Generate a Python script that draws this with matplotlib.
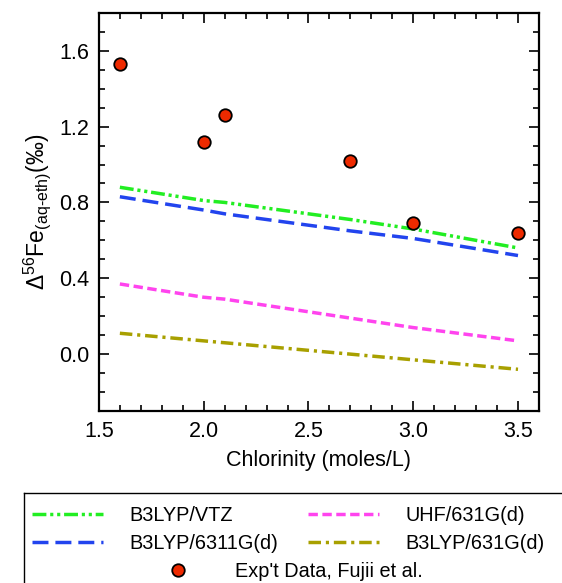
import matplotlib
matplotlib.use("Agg")
import matplotlib.pyplot as plt
from matplotlib.ticker import MultipleLocator

plt.rcParams["font.family"] = ["Liberation Sans", "DejaVu Sans"]
plt.rcParams["mathtext.fontset"] = "custom"
plt.rcParams["mathtext.rm"] = "Liberation Sans"
plt.rcParams["mathtext.it"] = "Liberation Sans"

# ── 데이터 ──────────────────────────────────────────────
chlorinity = [1.6, 2.0, 2.1, 2.7, 3.0, 3.5]
b3lyp_vtz = [0.88, 0.81, 0.80, 0.71, 0.66, 0.56]
b3lyp_6311 = [0.83, 0.76, 0.74, 0.65, 0.61, 0.52]
uhf_631 = [0.37, 0.30, 0.29, 0.19, 0.14, 0.07]
b3lyp_631 = [0.11, 0.07, 0.06, 0.00, -0.03, -0.08]
exp_fujii = [1.53, 1.12, 1.26, 1.02, 0.69, 0.64]

fig = plt.figure(figsize=(5.62, 5.83), dpi=100)
ax = fig.add_axes([0.176, 0.295, 0.783, 0.683])

lw = 2.5
l1, = ax.plot(chlorinity, b3lyp_vtz, color="#22ee22", lw=lw,
              dashes=(4.0, 1.1, 0.9, 1.1, 0.9, 1.1), label="B3LYP/VTZ")
l2, = ax.plot(chlorinity, b3lyp_6311, color="#2244ee", lw=lw,
              dashes=(4.6, 2.0), label="B3LYP/6311G(d)")
l3, = ax.plot(chlorinity, uhf_631, color="#ff44ee", lw=lw,
              dashes=(2.7, 1.3), label="UHF/631G(d)")
l4, = ax.plot(chlorinity, b3lyp_631, color="#a8a000", lw=lw,
              dashes=(3.6, 1.4, 0.9, 1.4), label="B3LYP/631G(d)")
pts, = ax.plot(chlorinity, exp_fujii, "o", ms=9, mfc="#ee2a00",
               mec="black", mew=1.3, ls="none", label="Exp't Data, Fujii et al.")

ax.set_xlim(1.5, 3.6)
ax.set_ylim(-0.3, 1.8)
ax.xaxis.set_minor_locator(MultipleLocator(0.1))
ax.yaxis.set_major_locator(MultipleLocator(0.4))
ax.yaxis.set_minor_locator(MultipleLocator(0.1))
ax.set_xticks([1.5, 2.0, 2.5, 3.0, 3.5])
ax.tick_params(which="both", direction="in", top=True, right=True,
               labelsize=15.5, width=1.2, pad=7)
ax.tick_params(which="major", length=7)
ax.tick_params(which="minor", length=4)
for s in ax.spines.values():
    s.set_linewidth(1.6)

ax.set_xlabel("Chlorinity (moles/L)", fontsize=15.5, labelpad=6)
ax.set_ylabel(r"$\Delta^{56}$Fe$_{\mathregular{(aq‐eth)}}$(‰)", fontsize=16.5,
              labelpad=4)

# ── 범례 상자 ────────────────────────────────────────────
lax = fig.add_axes([24 / 562, -0.05, 1.0, 0.205])
lax.set_xticks([])
lax.set_yticks([])
for side in ("right", "bottom"):
    lax.spines[side].set_visible(False)
for side in ("left", "top"):
    lax.spines[side].set_linewidth(1.0)

leg1 = lax.legend(handles=[l1, l2, l3, l4], ncol=2, loc="upper left",
                  bbox_to_anchor=(0.0, 0.955), borderaxespad=0,
                  frameon=False, fontsize=14.3, handlelength=3.6,
                  handletextpad=1.3, columnspacing=1.5, labelspacing=0.45)
lax.add_artist(leg1)
lax.legend(handles=[pts], loc="upper left", bbox_to_anchor=(0.224, 0.49),
           borderaxespad=0, frameon=False, fontsize=14.3, handlelength=2.0,
           handletextpad=1.9)

fig.savefig("out.png", dpi=100)
